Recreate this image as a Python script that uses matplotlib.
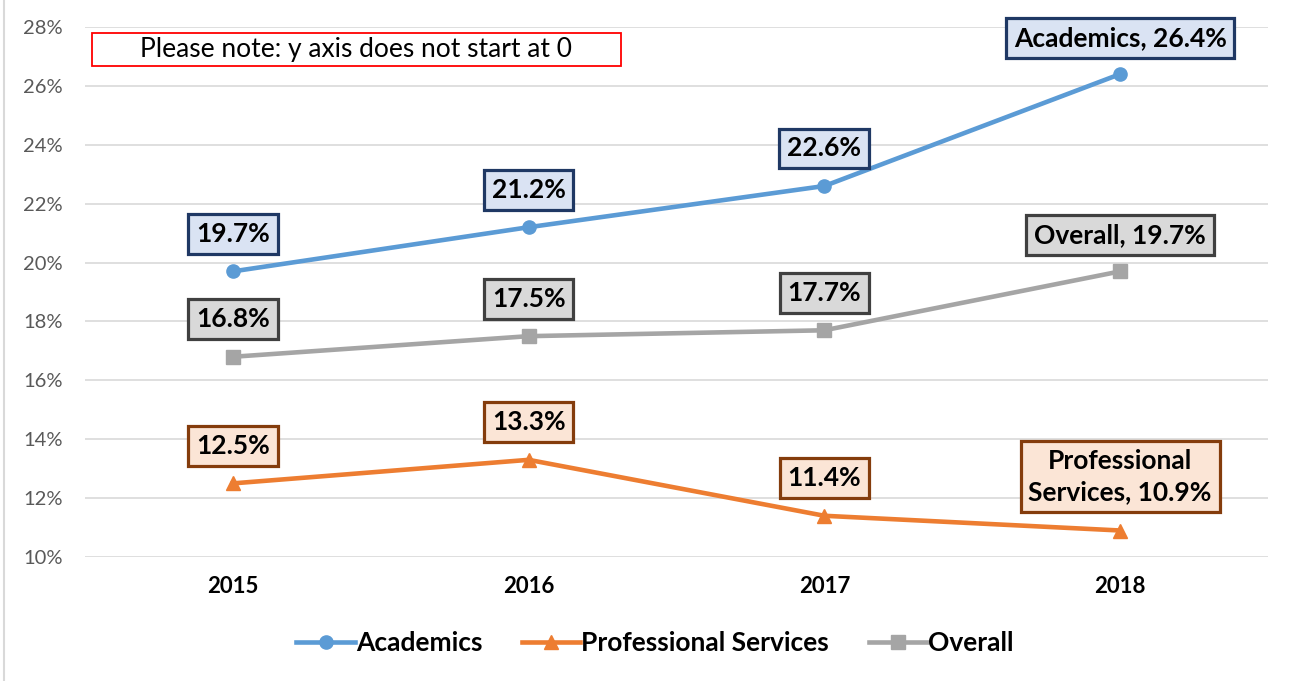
import matplotlib
matplotlib.use('Agg')
import matplotlib.pyplot as plt
from matplotlib.lines import Line2D
from matplotlib.patches import Rectangle
from matplotlib.ticker import FuncFormatter

plt.rcParams['font.family'] = ['Lato', 'DejaVu Sans']

# 데이터
years = ['2015', '2016', '2017', '2018']
academics = [19.7, 21.2, 22.6, 26.4]
prof_services = [12.5, 13.3, 11.4, 10.9]
overall = [16.8, 17.5, 17.7, 19.7]

BLUE = '#5B9BD5'
ORANGE = '#ED7D31'
GRAY = '#A5A5A5'

series = [
    ('Academics', academics, BLUE, 'o', '#DAE3F3', '#1F3864', 'Academics, {:.1f}%'),
    ('Professional Services', prof_services, ORANGE, '^', '#FBE5D6', '#843C0C',
     'Professional\nServices, {:.1f}%'),
    ('Overall', overall, GRAY, 's', '#D9D9D9', '#404040', 'Overall, {:.1f}%'),
]

fig = plt.figure(figsize=(12.9, 6.81), dpi=100, facecolor='white')
ax = fig.add_axes([85 / 1290, 1 - 557 / 681, (1268 - 85) / 1290, (557 - 27) / 681])

x = list(range(len(years)))
for name, vals, color, marker, face, edge, last_fmt in series:
    ax.plot(x, vals, color=color, linewidth=3.3, marker=marker, markersize=9.5,
            label=name, zorder=3)
    for i, v in enumerate(vals):
        if i == len(vals) - 1:
            txt = last_fmt.format(v)
            off = 39 if '\n' in txt else 26
        else:
            txt = f'{v:.1f}%'
            off = 27
        ax.annotate(txt, (i, v), xytext=(0, off), textcoords='offset points',
                    ha='center', va='center', fontsize=19, fontweight='bold',
                    color='black', linespacing=1.35,
                    bbox=dict(boxstyle='square,pad=0.3', facecolor=face,
                              edgecolor=edge, linewidth=2.3), zorder=4)

ax.set_xlim(-0.5, 3.5)
ax.set_ylim(10, 28)
ax.set_yticks(range(10, 29, 2))
ax.yaxis.set_major_formatter(FuncFormatter(lambda v, _: f'{v:.0f}%'))
ax.set_xticks(x)
ax.set_xticklabels(years, fontweight='bold', fontsize=16)
ax.tick_params(axis='y', colors='#595959', labelsize=14.5, length=0, pad=16)
ax.tick_params(axis='x', length=0, pad=14)
ax.grid(axis='y', color='#D9D9D9', linewidth=1.2)
ax.set_axisbelow(True)
for spine in ax.spines.values():
    spine.set_visible(False)

# 안내 문구
fig.add_artist(Rectangle((92 / 1290, 1 - 66 / 681), 529 / 1290, 33 / 681,
                         transform=fig.transFigure, facecolor='white',
                         edgecolor='#FF0000', linewidth=1.3, zorder=5))
fig.text(356 / 1290, 1 - 49 / 681, 'Please note: y axis does not start at 0',
         ha='center', va='center', fontsize=19, zorder=6)

handles = [Line2D([], [], color=c, marker=m, linewidth=3.3, markersize=9.5)
           for _, _, c, m, _, _, _ in series]
fig.legend(handles, [s[0] for s in series], loc='center', ncol=3,
           bbox_to_anchor=(655 / 1290, 1 - 643 / 681), frameon=False,
           prop={'weight': 'bold', 'size': 19}, handlelength=2.2,
           handletextpad=0.05, columnspacing=1.5)

# 왼쪽 테두리
fig.add_artist(Line2D([4 / 1290, 4 / 1290], [0, 1], color='#D9D9D9', linewidth=1.5,
                      transform=fig.transFigure))

fig.savefig('out.png', dpi=100, facecolor='white')
